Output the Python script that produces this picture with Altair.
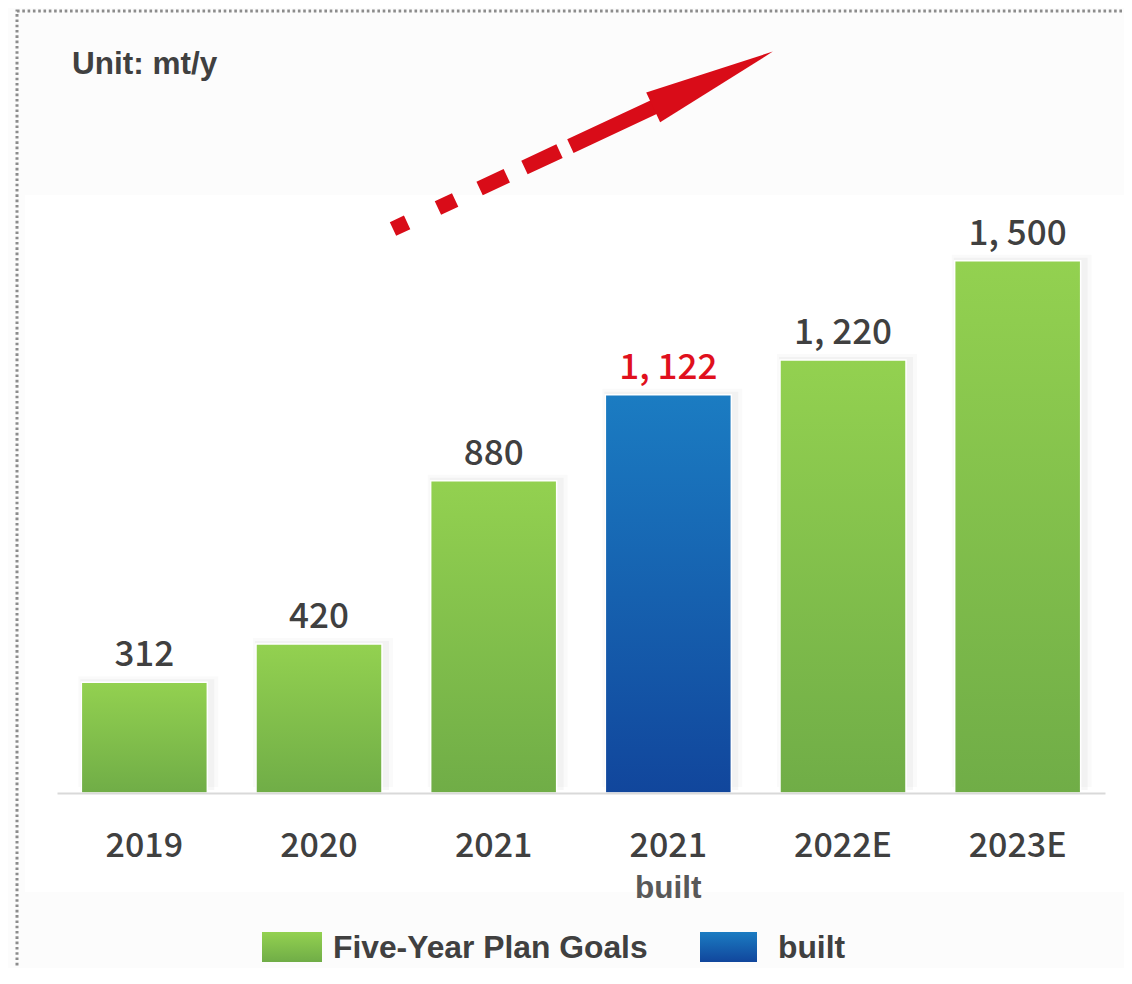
import altair as alt
import pandas as pd

# ---- data ----
years = ["2019", "2020", "2021", "2021", "2022E", "2023E"]
sublabels = ["", "", "", "built", "", ""]
values = [312, 420, 880, 1122, 1220, 1500]
series = ["Five-Year Plan Goals", "Five-Year Plan Goals", "Five-Year Plan Goals",
          "built", "Five-Year Plan Goals", "Five-Year Plan Goals"]
legend_labels = ["Five-Year Plan Goals", "built"]
unit_text = "Unit: mt/y"

keys = [f"{y} {s}".strip() for y, s in zip(years, sublabels)]
labels = [f"{v:,}".replace(",", ", ") for v in values]
df = pd.DataFrame({"key": keys, "year": years, "sub": sublabels, "value": values,
                   "series": series, "label": labels})
one = pd.DataFrame({"a": [0]})

W, H = 1048, 773
YMAX = 2178

GREEN = alt.Gradient(gradient="linear", x1=0, x2=0, y1=0, y2=1,
                     stops=[alt.GradientStop(color="#93d150", offset=0),
                            alt.GradientStop(color="#70ad47", offset=1)])
BLUE = alt.Gradient(gradient="linear", x1=0, x2=0, y1=0, y2=1,
                    stops=[alt.GradientStop(color="#1b7cc2", offset=0),
                           alt.GradientStop(color="#11469c", offset=1)])
RED = "#d90c18"
DARK = "#404040"
BOLD_FONT = "Liberation Sans"
NUM_FONT = "Noto Sans CJK SC"

x = alt.X("key:N", sort=keys,
          scale=alt.Scale(paddingInner=0, paddingOuter=0),
          axis=alt.Axis(title=None, labelExpr="split(datum.label, ' ')[0]",
                        labelFont=NUM_FONT, labelFontSize=34, labelFontWeight=500,
                        labelColor=DARK,
                        labelAngle=0, labelPadding=63, labelBaseline="alphabetic",
                        ticks=False, domainColor="#d9d9d9", domainWidth=2, grid=False,
                        zindex=1))
y = alt.Y("value:Q", scale=alt.Scale(domain=[0, YMAX], nice=False), axis=None)

base = alt.Chart(df).encode(x=x, y=y)
deco = alt.Chart(one)

# decorations
white_bg = deco.mark_rect(fill="#ffffff").encode(
    x=alt.value(-32), x2=alt.value(W + 100), y=alt.value(175), y2=alt.value(872))
border = deco.mark_rect(filled=False, stroke="#8c8c8c", strokeWidth=3,
                        strokeDash=[2.6, 2.7]).encode(
    x=alt.value(-40), x2=alt.value(W + 200), y=alt.value(-9), y2=alt.value(H + 400))

shadow1 = base.mark_bar(size=140, color="#000000", opacity=0.02, xOffset=4, yOffset=-6)
shadow2 = base.mark_bar(size=134, color="#000000", opacity=0.03, xOffset=3, yOffset=-3)

green_bars = base.mark_bar(size=126, fill=GREEN, stroke="#ffffff", strokeWidth=1.5).transform_filter(
    alt.datum.series != "built")
blue_bars = base.mark_bar(size=126, fill=BLUE, stroke="#ffffff", strokeWidth=1.5).transform_filter(
    alt.datum.series == "built")

value_labels = base.mark_text(font=NUM_FONT, fontSize=35, fontWeight=500,
                              baseline="alphabetic", dy=-16, align="center").encode(
    text="label:N",
    color=alt.condition(alt.datum.series == "built", alt.value("#e0101d"), alt.value(DARK)))

sub_labels = alt.Chart(df).mark_text(font=BOLD_FONT, fontWeight="bold", fontSize=31.5,
                                     color="#595959", baseline="alphabetic").encode(
    x=x, y=alt.value(878), text="sub:N").transform_filter(alt.datum.sub != "")

unit = deco.mark_text(font=BOLD_FONT, fontWeight="bold", fontSize=31.5, color=DARK,
                      align="left", baseline="alphabetic").encode(
    x=alt.value(15), y=alt.value(54), text=alt.value(unit_text))

arrow_shaft = deco.mark_rule(color=RED, strokeWidth=15, strokeCap="butt",
                             strokeDash=[15.6, 34, 19, 27, 30, 19.5, 38.7, 12, 400]).encode(
    x=alt.value(336), y=alt.value(209), x2=alt.value(597), y2=alt.value(87))
arrow_head = deco.mark_point(shape="M -1 -0.25 L 1 0 L -1 0.25 Z", size=17424, angle=335,
                             filled=True, fill=RED, opacity=1, strokeWidth=0).encode(
    x=alt.value(656), y=alt.value(59.5))

leg_sw1 = deco.mark_rect(fill=GREEN).encode(
    x=alt.value(205), x2=alt.value(265), y=alt.value(912), y2=alt.value(942))
leg_sw2 = deco.mark_rect(fill=BLUE).encode(
    x=alt.value(643), x2=alt.value(700), y=alt.value(912), y2=alt.value(942))
leg_t1 = deco.mark_text(font=BOLD_FONT, fontWeight="bold", fontSize=31.8, color=DARK,
                        align="left", baseline="alphabetic").encode(
    x=alt.value(276), y=alt.value(938), text=alt.value(legend_labels[0]))
leg_t2 = deco.mark_text(font=BOLD_FONT, fontWeight="bold", fontSize=31.8, color=DARK,
                        align="left", baseline="alphabetic").encode(
    x=alt.value(721), y=alt.value(938), text=alt.value(legend_labels[1]))

chart = alt.layer(
    white_bg, border, shadow1, shadow2, green_bars, blue_bars, value_labels, sub_labels,
    unit, arrow_shaft, arrow_head, leg_sw1, leg_sw2, leg_t1, leg_t2
).properties(
    width=W, height=H,
    autosize=alt.AutoSizeParams(type="none"),
    padding={"left": 49, "top": 12, "right": 19, "bottom": 175},
    background="#fcfcfc",
).configure_view(stroke=None)

chart.save("out.html", embed_options={"renderer": "svg", "actions": False})
